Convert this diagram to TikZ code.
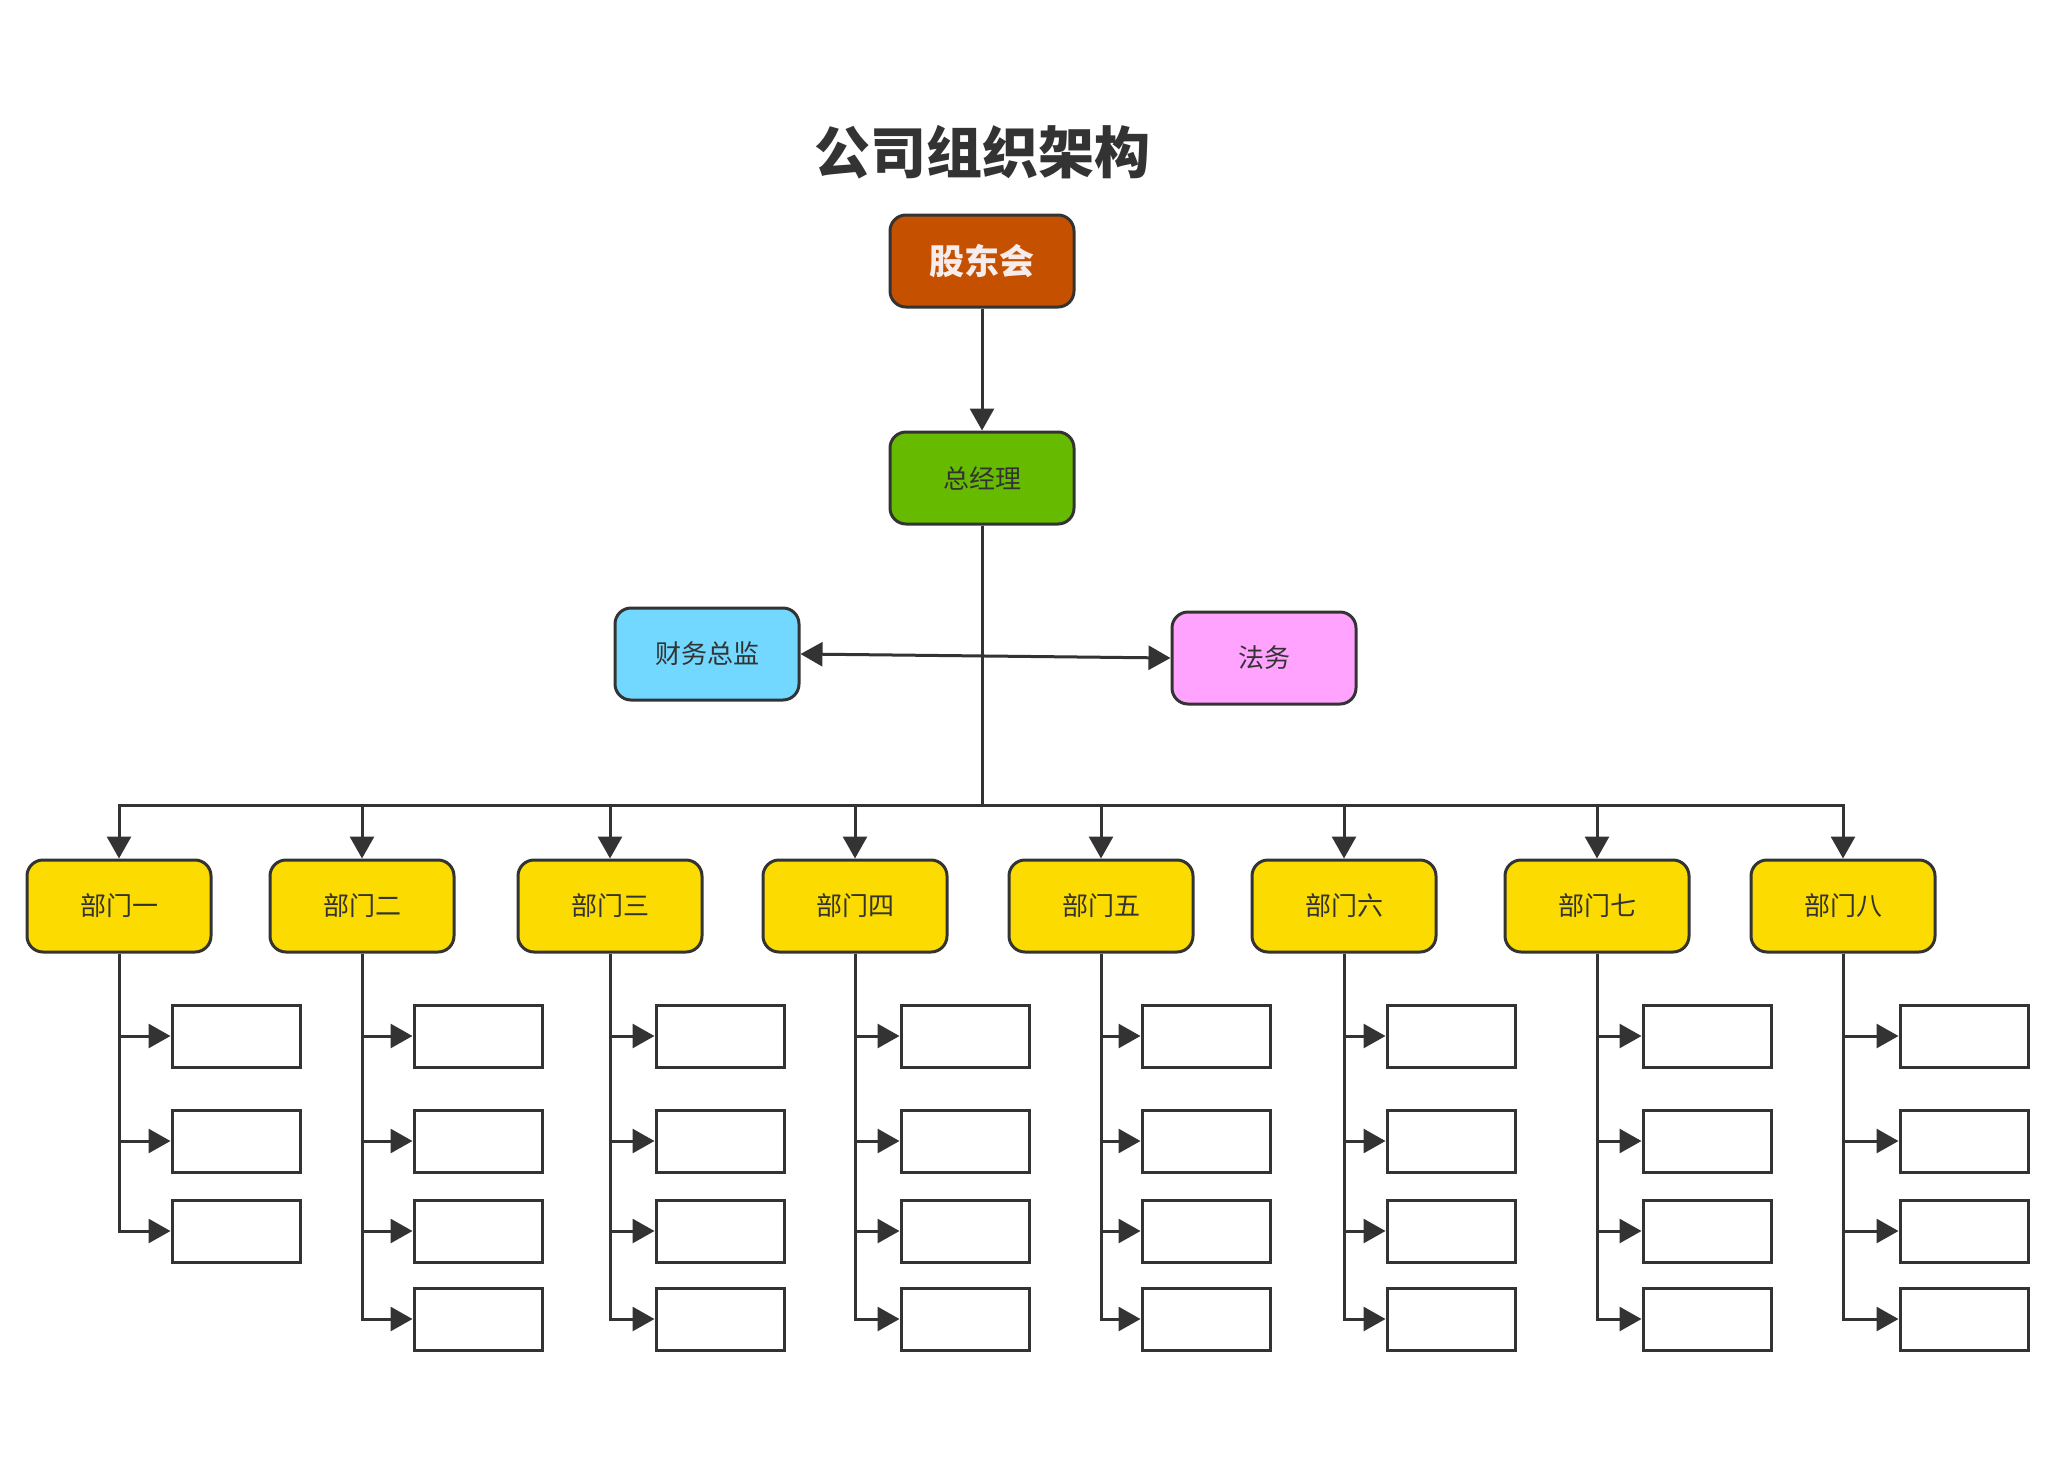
\documentclass[tikz,border=0pt]{standalone}
\usepackage{fontspec}
\setmainfont{Noto Sans CJK SC}
\usetikzlibrary{arrows.meta}
\definecolor{ln}{HTML}{333333}
\definecolor{shc}{HTML}{C55000}
\definecolor{gmc}{HTML}{66BB00}
\definecolor{finc}{HTML}{72D8FF}
\definecolor{legc}{HTML}{FFA3FF}
\definecolor{depc}{HTML}{FBDB00}
\definecolor{shtext}{HTML}{F7ECEC}
\tikzset{
  mainbox/.style={draw=ln, line width=1.5pt, rounded corners=8pt, minimum width=92pt, minimum height=46pt, inner sep=0pt, text=ln, font=\fontsize{13pt}{15pt}\selectfont},
  subbox/.style={draw=ln, line width=1.5pt, fill=white, minimum width=64pt, minimum height=31pt, inner sep=0pt},
  conn/.style={draw=ln, line width=1.5pt, -{Triangle[length=11pt,width=12pt]}},
  conn2/.style={draw=ln, line width=1.5pt, {Triangle[length=11pt,width=12pt]}-{Triangle[length=11pt,width=12pt]}},
}
\begin{document}
\begin{tikzpicture}[x=0.5pt,y=-0.5pt]
\useasboundingbox (0,0) rectangle (2056,1472);
\node[text=ln, font=\fontsize{28pt}{32pt}\selectfont\bfseries] (title) at (982,152) {公司组织架构};
\node[mainbox, fill=shc, text=shtext, font=\fontsize{17.5pt}{20pt}\selectfont\bfseries] (sh) at (982,261) {股东会};
\node[mainbox, fill=gmc] (gm) at (982,478) {总经理};
\node[mainbox, fill=finc] (fin) at (707,654) {财务总监};
\node[mainbox, fill=legc] (leg) at (1264,658) {法务};
\draw[conn] (sh) -- (gm);
\draw[conn2] (fin.east) -- (leg.west);
\coordinate (bus) at (982,805);
\foreach \i/\x/\sx/\name in {1/119/236/部门一, 2/362/478/部门二, 3/610/720/部门三, 4/855/965/部门四, 5/1101/1206/部门五, 6/1344/1451/部门六, 7/1597/1707/部门七, 8/1843/1964/部门八}{
  \node[mainbox, fill=depc] (d\i) at (\x,906) {\name};
  \draw[conn] (gm.south) -- (bus) -| (d\i.north);
  \node[subbox] (d\i s1) at (\sx,1036) {};
  \node[subbox] (d\i s2) at (\sx,1141) {};
  \node[subbox] (d\i s3) at (\sx,1231) {};
  \draw[conn] (d\i.south) |- (d\i s1.west);
  \draw[conn] (d\i.south) |- (d\i s2.west);
  \draw[conn] (d\i.south) |- (d\i s3.west);
}
\foreach \i/\sx in {2/478, 3/720, 4/965, 5/1206, 6/1451, 7/1707, 8/1964}{
  \node[subbox] (d\i s4) at (\sx,1319) {};
  \draw[conn] (d\i.south) |- (d\i s4.west);
}
\end{tikzpicture}
\end{document}
